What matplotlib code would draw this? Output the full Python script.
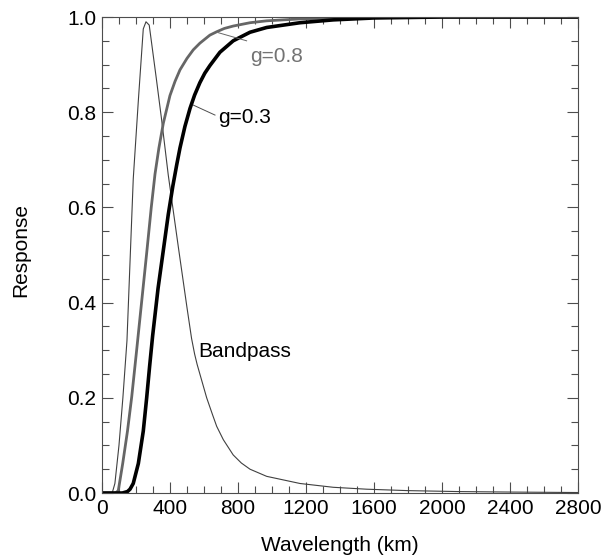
import matplotlib
matplotlib.use("Agg")
import matplotlib.pyplot as plt
from matplotlib.ticker import MultipleLocator, FormatStrFormatter

plt.rcParams['font.family'] = ['Liberation Sans', 'DejaVu Sans']
FS = 15

# bandpass response
bp_x = [0, 60, 76, 100, 123, 147, 184, 215, 243, 259, 278, 320, 351, 390, 450, 500,
        527, 545, 560, 576, 600, 616, 650, 675, 714, 772, 820, 871, 969, 1165, 1361,
        1557, 1800, 2100, 2400, 2800]
bp_y = [0.0, 0.0, 0.02, 0.10, 0.20, 0.32, 0.66, 0.83, 0.975, 0.99, 0.983, 0.87, 0.784,
        0.668, 0.515, 0.39, 0.325, 0.292, 0.27, 0.25, 0.22, 0.20, 0.165, 0.14, 0.112,
        0.080, 0.063, 0.05, 0.035, 0.02, 0.012, 0.008, 0.005, 0.003, 0.002, 0.001]

# g=0.8 response
g8_x = [0, 80, 96, 122, 150, 175, 204, 230, 263, 290, 312, 335, 361, 400, 430, 459,
        500, 537, 576, 635, 675, 720, 772, 871, 969, 1165, 1361, 1600, 2000, 2800]
g8_y = [0.0, 0.0, 0.005, 0.062, 0.13, 0.202, 0.30, 0.39, 0.504, 0.60, 0.67, 0.725,
        0.777, 0.835, 0.865, 0.889, 0.913, 0.931, 0.945, 0.962, 0.969, 0.976, 0.981,
        0.988, 0.992, 0.996, 0.998, 0.999, 1.0, 1.0]

# g=0.3 response
g3_x = [0, 120, 150, 165, 184, 214, 243, 263, 280, 298, 330, 361, 390, 417, 440, 459,
        488, 518, 545, 576, 605, 635, 694, 772, 871, 969, 1165, 1361, 1600, 2000, 2800]
g3_y = [0.0, 0.0, 0.003, 0.008, 0.02, 0.062, 0.13, 0.20, 0.265, 0.33, 0.43, 0.51,
        0.585, 0.645, 0.69, 0.725, 0.77, 0.808, 0.836, 0.862, 0.882, 0.898, 0.926,
        0.950, 0.968, 0.978, 0.988, 0.994, 0.998, 1.0, 1.0]

fig = plt.figure(figsize=(6.07, 5.56), dpi=100)
ax = fig.add_axes([0.168, 0.1133, 0.784, 0.8561])

ax.plot(bp_x, bp_y, color='0.25', lw=0.8)
ax.plot(g8_x, g8_y, color='0.4', lw=2.0)
ax.plot(g3_x, g3_y, color='black', lw=2.6)

# labels with leader lines
ax.plot([685, 851], [0.967, 0.950], color='0.4', lw=0.7)
ax.text(870, 0.918, 'g=0.8', color='0.45', fontsize=FS, va='center')
ax.plot([537, 665], [0.815, 0.794], color='0.3', lw=0.7)
ax.text(684, 0.789, 'g=0.3', color='black', fontsize=FS, va='center')
ax.text(565, 0.297, 'Bandpass', color='black', fontsize=FS, va='center')

ax.set_xlim(0, 2800)
ax.set_ylim(0, 1.0)
ax.xaxis.set_major_locator(MultipleLocator(400))
ax.xaxis.set_minor_locator(MultipleLocator(100))
ax.yaxis.set_major_locator(MultipleLocator(0.2))
ax.yaxis.set_minor_locator(MultipleLocator(0.05))
ax.yaxis.set_major_formatter(FormatStrFormatter('%.1f'))

ax.tick_params(which='both', direction='in', top=True, right=True,
               width=0.8, color='0.3', labelsize=FS)
ax.tick_params(which='major', length=8, pad=4)
ax.tick_params(which='minor', length=5)
for s in ax.spines.values():
    s.set_linewidth(0.8)
    s.set_color('0.3')

ax.set_xlabel('Wavelength (km)', fontsize=FS)
ax.set_ylabel('Response', fontsize=FS)
ax.xaxis.set_label_coords(0.5, -0.09)
ax.yaxis.set_label_coords(-0.151, 0.51)

fig.savefig('out.png', dpi=100)
